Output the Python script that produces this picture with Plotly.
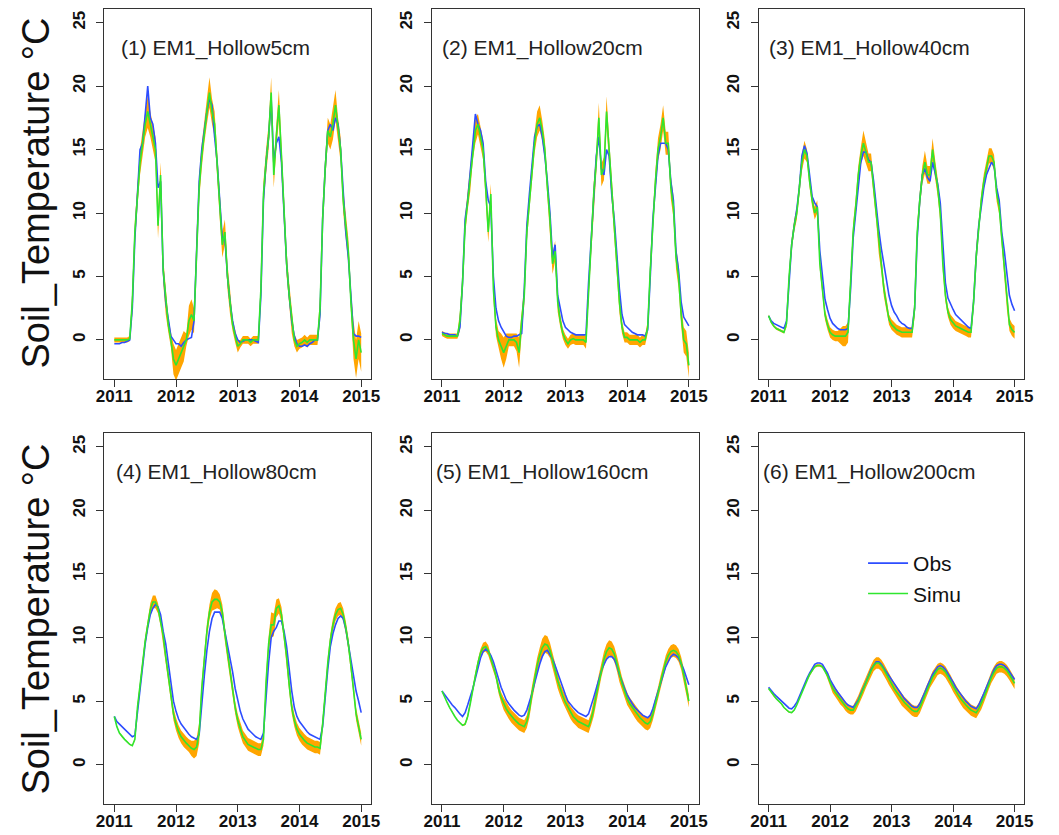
import plotly.graph_objects as go

# time grid: semi-monthly steps from 2011.0 to 2015.0 (decimal year)
years_start = 2011
steps_per_year = 24
t = [years_start + k / steps_per_year for k in range(4 * steps_per_year + 1)]

panel_titles = ["(1) EM1_Hollow5cm", "(2) EM1_Hollow20cm", "(3) EM1_Hollow40cm",
                "(4) EM1_Hollow80cm", "(5) EM1_Hollow160cm", "(6) EM1_Hollow200cm"]
x_ticks = [2011, 2012, 2013, 2014, 2015]
y_ticks = [0, 5, 10, 15, 20, 25]
y_title = "Soil_Temperature \u00b0C"
legend_names = ["Obs", "Simu"]

# ---------------- Panel 1: 5 cm ----------------
obs1 = [-0.3,-0.3,-0.3,-0.2,-0.2,-0.1,0.0,2.5,8.0,11.5, 15.0,15.5,18.0,20.0,17.5,17.0,15.5,12.0,12.5,5.5, 3.0,1.5,0.3,0.0,-0.3,
        -0.3,-0.5,-0.2,0.0,0.1,0.2,1.5,7.0,12.5,15.0, 16.5,18.0,19.0,18.5,16.0,14.0,11.0,8.0,8.0,5.0, 3.0,1.5,0.5,0.0,
        -0.2,-0.1,0.0,0.0,0.0,0.0,-0.1,-0.2,3.5,11.0, 14.0,16.0,19.0,14.0,15.5,16.0,14.0,10.0,6.0,3.5, 1.5,0.3,-0.3,-0.5,
        -0.5,-0.4,-0.5,-0.3,-0.2,0.0,0.0,2.0,9.5,13.5, 16.5,17.0,16.5,17.5,17.0,15.0,11.5,8.5,6.5,3.5, 0.5,0.3,0.3,0.2]
sim1 = [0.0,0.0,0.0,0.0,0.0,0.0,0.1,3.0,8.5,11.5, 14.0,15.5,17.0,18.0,17.0,16.0,15.0,9.0,13.0,5.5, 3.0,1.2,0.0,-1.5,-2.0,
        -1.5,-1.0,-0.5,0.0,1.5,2.0,1.5,7.5,12.0,14.5, 16.5,18.0,19.5,18.0,17.0,14.0,10.5,7.5,8.5,5.0, 3.0,1.2,0.3,-0.5,
        -0.3,0.0,0.0,0.0,-0.2,0.0,0.0,0.0,4.0,11.5, 14.0,16.0,19.5,13.0,16.0,18.5,14.5,10.0,6.0,3.5, 1.5,0.0,-0.5,-0.3,
        -0.2,0.0,-0.2,0.0,0.0,0.0,0.0,2.5,9.5,13.5, 16.5,16.0,17.0,18.5,16.5,15.0,11.0,9.0,7.0,3.0, 0.0,-1.5,0.0,-1.0]
half1 = [0.2,0.2,0.2,0.2,0.2,0.2,0.2,1.0,1.0,1.0, 1.0,1.0,1.0,1.3,1.0,1.0,1.0,1.0,1.0,1.0, 1.0,0.6,0.6,1.2,1.2,
         1.2,1.2,1.2,0.5,1.2,1.2,1.0,1.0,1.0,1.0, 1.0,1.0,1.2,1.0,1.0,1.0,1.0,1.0,1.0,1.0, 1.0,0.5,0.5,0.5,
         0.3,0.3,0.3,0.3,0.3,0.3,0.3,0.3,1.0,1.0, 1.0,1.0,1.2,1.0,1.0,1.2,1.0,1.0,1.0,1.0, 1.0,0.5,0.5,0.4,
         0.4,0.4,0.4,0.4,0.4,0.4,0.4,1.0,1.0,1.0, 1.0,1.0,1.2,1.2,1.0,1.0,1.0,1.0,1.0,1.0, 1.5,1.5,1.5,1.5]

# ---------------- Panel 2: 20 cm ----------------
obs2 = [0.6,0.5,0.5,0.4,0.4,0.4,0.3,1.0,4.5,9.5, 11.0,13.0,15.5,17.8,17.0,16.5,15.5,12.5,11.0,10.5, 5.0,2.5,1.5,1.0,0.6,
        0.3,0.2,0.2,0.3,0.3,0.4,0.5,4.0,9.0,11.5, 14.0,16.0,16.8,17.0,16.0,14.5,12.5,10.0,6.5,7.5, 3.5,2.5,1.5,1.0,
        0.8,0.6,0.5,0.4,0.4,0.4,0.4,0.4,4.5,8.0, 12.0,14.5,16.0,13.5,13.0,15.0,14.5,11.5,9.5,6.5, 4.0,2.0,1.2,1.0,
        0.8,0.6,0.5,0.4,0.4,0.4,0.3,0.8,5.0,9.5, 12.0,14.5,15.5,15.5,15.5,15.0,12.5,11.0,7.0,5.5, 3.0,1.8,1.4,1.1]
sim2 = [0.5,0.4,0.3,0.3,0.3,0.3,0.3,1.5,4.5,9.0, 11.0,12.5,15.0,16.5,17.0,16.0,15.0,12.0,8.5,11.5, 4.0,1.0,0.0,-0.5,-1.0,
        -0.5,0.0,0.0,0.0,-0.2,-1.0,1.5,3.5,8.5,11.0, 13.5,15.5,17.0,17.5,16.5,15.0,12.0,9.5,6.0,7.0, 3.0,1.5,0.5,0.0,
        -0.3,0.0,0.1,0.0,0.0,0.0,0.0,-0.2,4.0,7.5, 11.5,14.0,17.5,13.0,13.5,18.0,15.0,11.5,9.0,6.0, 3.0,1.0,0.2,0.2,
        0.0,0.0,0.0,0.0,-0.2,0.0,0.0,1.0,5.5,9.5, 12.5,15.0,16.0,17.5,15.5,15.5,12.0,10.5,6.5,5.0, 2.0,0.0,-0.3,-2.0]
half2 = [0.2,0.2,0.2,0.2,0.2,0.2,0.2,0.8,0.8,0.8, 0.8,0.8,0.8,1.0,0.8,0.8,0.8,0.8,0.8,0.8, 0.8,0.7,0.7,1.0,1.2,
         1.0,0.5,0.5,0.5,0.7,1.2,1.0,0.8,0.8,0.8, 0.8,0.8,1.0,1.0,0.8,0.8,0.8,0.8,0.8,0.8, 0.8,0.5,0.4,0.4,
         0.4,0.4,0.4,0.4,0.4,0.4,0.4,0.5,0.9,0.9, 0.9,0.9,1.2,0.9,0.9,1.2,0.9,0.9,0.9,0.9, 0.9,0.5,0.4,0.4,
         0.4,0.4,0.4,0.4,0.4,0.4,0.4,0.5,0.9,0.9, 0.9,0.9,1.0,1.0,0.9,0.9,0.9,0.9,0.9,0.9, 0.9,1.0,1.0,1.0]

# ---------------- Panel 3: 40 cm ----------------
obs3 = [1.9,1.5,1.3,1.2,1.1,1.0,0.9,1.5,5.0,7.5, 9.0,10.3,12.0,14.5,15.3,14.7,13.0,11.3,10.8,10.5, 7.0,5.0,3.2,2.4,1.7,
        1.3,1.1,0.9,0.8,0.8,0.8,0.9,4.0,8.0,10.0, 12.5,14.0,14.8,14.8,14.2,14.0,12.5,10.3,8.7,7.2, 6.0,5.0,3.5,2.7,
        2.2,1.9,1.5,1.3,1.2,1.0,0.9,0.9,2.5,8.0, 11.0,13.0,13.5,12.8,12.5,14.0,13.2,12.3,10.8,7.5, 4.5,3.3,2.8,2.4,
        2.0,1.8,1.6,1.4,1.2,1.0,0.9,3.0,6.5,9.0, 10.5,12.0,13.0,13.5,14.0,13.7,12.0,11.0,8.5,7.0, 5.0,3.5,2.8,2.3]
sim3 = [1.9,1.4,1.1,0.9,0.8,0.7,0.6,1.3,5.0,7.5, 9.0,10.0,12.0,14.0,15.0,14.5,12.5,11.0,10.0,10.5, 6.0,4.0,2.0,1.2,0.6,
        0.4,0.3,0.3,0.3,0.3,0.3,0.6,4.5,8.5,10.5, 13.0,14.5,15.5,14.8,14.0,14.0,12.0,10.0,7.5,6.0, 4.0,2.8,1.6,1.2,
        1.0,0.8,0.7,0.6,0.6,0.6,0.6,0.6,2.5,8.5, 11.0,13.0,14.0,13.0,13.0,15.0,13.5,12.0,10.0,6.0, 3.5,2.2,1.6,1.3,
        1.1,1.0,0.9,0.8,0.7,0.6,0.6,3.0,6.5,9.0, 11.0,12.5,13.5,14.5,14.5,14.0,11.5,10.5,8.0,5.5, 3.0,1.2,0.8,0.6]
half3 = [0.1,0.1,0.1,0.1,0.1,0.1,0.1,0.3,0.5,0.5, 0.5,0.5,0.5,0.7,0.7,0.5,0.5,0.5,0.5,0.5, 0.5,0.4,0.4,0.4,0.4,
         0.4,0.4,0.4,0.6,0.8,0.8,0.8,0.7,0.7,0.7, 0.7,0.7,1.0,0.8,0.7,0.7,0.7,0.7,0.7,0.7, 0.6,0.5,0.4,0.4,
         0.4,0.4,0.4,0.4,0.4,0.4,0.4,0.4,0.7,0.7, 0.7,0.7,0.9,0.7,0.7,0.9,0.7,0.7,0.7,0.6, 0.5,0.4,0.4,0.4,
         0.4,0.4,0.4,0.4,0.4,0.4,0.4,0.6,0.8,0.6, 0.6,0.6,0.6,0.6,0.6,0.6,0.6,0.6,0.6,0.6, 0.6,0.5,0.5,0.5]

# ---------------- Panel 4: 80 cm ----------------
obs4 = [3.8,3.4,3.2,3.0,2.8,2.6,2.4,2.2,2.3,4.2, 6.0,8.0,9.5,10.8,11.8,12.3,12.6,12.4,11.8,10.5, 9.5,8.0,6.5,5.0,4.2,
        3.6,3.2,2.9,2.6,2.4,2.2,2.1,2.0,2.4,5.0, 7.0,9.0,10.5,11.5,12.0,12.0,12.0,11.5,10.5,9.5, 8.5,7.3,6.0,5.0,
        4.2,3.6,3.2,2.8,2.6,2.4,2.2,2.1,2.0,2.5, 5.5,8.0,10.0,10.5,10.8,11.3,11.3,10.5,9.3,7.5, 5.8,4.5,3.8,3.4,
        3.1,2.8,2.6,2.4,2.3,2.2,2.1,2.0,3.0,5.5, 7.5,9.3,10.3,11.0,11.5,11.7,11.5,10.7,9.5,8.3, 7.0,5.8,5.0,4.1]
sim4 = [3.8,3.0,2.5,2.2,2.0,1.8,1.6,1.5,2.0,4.5, 6.3,8.0,9.7,11.0,12.2,12.8,12.8,12.3,11.3,10.2, 8.5,7.0,5.5,4.0,3.2,
        2.6,2.2,1.9,1.7,1.5,1.3,1.2,1.4,2.5,6.0, 8.3,10.5,12.0,12.8,13.0,13.0,12.8,12.0,10.3,8.8, 7.2,5.8,4.5,3.5,
        2.8,2.2,1.9,1.6,1.5,1.4,1.3,1.2,1.2,2.0, 6.5,9.5,11.0,11.0,12.3,12.5,11.8,10.3,8.5,6.3, 4.5,3.5,2.8,2.4,
        2.1,1.9,1.7,1.6,1.5,1.4,1.4,1.3,3.2,6.0, 8.0,9.8,11.0,11.8,12.2,12.3,11.8,10.8,9.5,7.8, 6.0,4.0,3.0,2.0]
half4 = [0.05,0.05,0.05,0.05,0.05,0.05,0.05,0.05,0.1,0.3, 0.4,0.4,0.4,0.4,0.5,0.5,0.5,0.4,0.4,0.4, 0.4,0.5,0.5,0.5,0.5,
         0.5,0.5,0.5,0.5,0.5,0.6,0.7,0.7,0.8,0.6, 0.6,0.6,0.6,0.7,0.8,0.7,0.6,0.6,0.6,0.6, 0.6,0.5,0.5,0.5,
         0.5,0.5,0.5,0.5,0.5,0.5,0.5,0.5,0.5,0.5, 0.6,0.6,1.0,0.9,0.7,0.6,0.6,0.6,0.6,0.6, 0.5,0.5,0.5,0.5,
         0.5,0.5,0.5,0.5,0.5,0.5,0.5,0.5,0.5,0.5, 0.5,0.5,0.5,0.5,0.5,0.5,0.5,0.5,0.5,0.5, 0.5,0.5,0.5,0.5]

# ---------------- Panel 5: 160 cm ----------------
obs5 = [5.8,5.5,5.2,5.0,4.7,4.5,4.2,4.0,3.8,4.1, 4.7,5.3,6.0,6.8,7.7,8.4,8.9,9.1,8.9,8.6, 8.1,7.4,6.7,6.1,5.6,
        5.1,4.8,4.5,4.3,4.1,3.9,3.8,3.9,4.3,4.9, 5.6,6.4,7.2,7.9,8.5,8.9,9.0,8.7,8.3,7.8, 7.2,6.6,6.0,5.5,
        5.0,4.7,4.5,4.3,4.1,4.0,3.9,3.8,4.0,4.6, 5.3,6.0,6.8,7.4,7.9,8.3,8.5,8.5,8.3,7.8, 7.1,6.5,6.0,5.5,
        5.1,4.8,4.5,4.3,4.1,3.9,3.8,3.7,3.9,4.4, 5.1,5.8,6.5,7.1,7.7,8.1,8.5,8.7,8.6,8.4, 8.0,7.5,6.9,6.3]
sim5 = [5.8,5.3,4.9,4.5,4.1,3.8,3.5,3.3,3.1,3.2, 3.8,4.8,6.0,7.0,8.0,8.8,9.2,9.3,9.0,8.4, 7.7,7.0,6.0,5.3,4.8,
        4.4,4.1,3.8,3.6,3.4,3.2,3.1,3.0,3.4,4.3, 5.6,6.8,7.8,8.6,9.2,9.5,9.4,9.0,8.3,7.4, 6.6,5.9,5.4,4.9,
        4.5,4.1,3.8,3.6,3.4,3.3,3.2,3.1,3.0,3.6, 4.4,5.5,6.5,7.5,8.3,8.9,9.2,9.1,8.7,8.0, 7.1,6.4,5.8,5.2,
        4.8,4.5,4.2,3.9,3.7,3.5,3.3,3.2,3.4,4.0, 4.7,5.6,6.5,7.3,8.1,8.6,8.9,9.0,8.9,8.6, 8.0,7.1,6.1,5.0]
half5 = [0.05,0.05,0.05,0.05,0.05,0.05,0.05,0.05,0.05,0.1, 0.2,0.3,0.3,0.3,0.3,0.3,0.4,0.4,0.4,0.3, 0.3,0.3,0.4,0.4,0.5,
         0.5,0.5,0.5,0.5,0.5,0.5,0.5,0.5,0.5,0.6, 0.6,0.6,0.6,0.6,0.7,0.7,0.7,0.6,0.6,0.6, 0.6,0.5,0.5,0.5,
         0.5,0.5,0.5,0.5,0.5,0.5,0.5,0.5,0.5,0.5, 0.6,0.6,0.6,0.6,0.6,0.6,0.6,0.6,0.6,0.6, 0.6,0.5,0.5,0.5,
         0.5,0.5,0.5,0.5,0.5,0.5,0.5,0.5,0.5,0.5, 0.5,0.5,0.5,0.5,0.5,0.5,0.5,0.5,0.5,0.5, 0.5,0.5,0.5,0.5]

# ---------------- Panel 6: 200 cm ----------------
obs6 = [6.1,5.8,5.6,5.4,5.2,5.0,4.8,4.6,4.45,4.4, 4.6,4.9,5.4,5.8,6.3,6.8,7.2,7.6,7.9,8.0, 8.0,7.9,7.6,7.2,6.7,
        6.3,6.0,5.7,5.4,5.2,4.9,4.7,4.6,4.5,4.8, 5.1,5.6,6.0,6.5,7.0,7.5,7.8,8.1,8.1,7.9, 7.6,7.3,7.0,6.6,
        6.3,6.0,5.7,5.4,5.2,5.0,4.8,4.6,4.5,4.5, 4.8,5.2,5.7,6.2,6.7,7.1,7.4,7.7,7.8,7.7, 7.5,7.2,6.9,6.5,
        6.1,5.8,5.5,5.2,5.0,4.8,4.6,4.5,4.4,4.7, 5.1,5.6,6.1,6.6,7.1,7.5,7.8,7.9,7.9,7.8, 7.6,7.3,7.0,6.7]
sim6 = [6.0,5.7,5.4,5.2,5.0,4.8,4.5,4.3,4.15,4.1, 4.3,4.7,5.2,5.7,6.2,6.7,7.1,7.4,7.7,7.8, 7.8,7.7,7.4,7.0,6.5,
        6.0,5.7,5.4,5.1,4.9,4.6,4.4,4.3,4.3,4.6, 5.0,5.5,6.0,6.5,7.0,7.4,7.8,8.0,8.0,7.8, 7.5,7.1,6.7,6.3,
        6.0,5.7,5.4,5.1,4.9,4.7,4.5,4.3,4.2,4.2, 4.5,5.0,5.5,6.0,6.5,6.9,7.2,7.5,7.6,7.5, 7.3,7.0,6.6,6.2,
        5.8,5.5,5.2,4.9,4.7,4.5,4.3,4.2,4.1,4.4, 4.8,5.3,5.8,6.4,6.9,7.3,7.6,7.7,7.7,7.6, 7.4,7.1,6.8,6.4]
half6 = [0.05,0.05,0.05,0.05,0.05,0.05,0.05,0.05,0.05,0.05, 0.05,0.1,0.1,0.1,0.1,0.1,0.1,0.1,0.1,0.1, 0.1,0.1,0.1,0.3,0.3,
         0.35,0.35,0.35,0.35,0.35,0.35,0.35,0.35,0.35,0.4, 0.45,0.45,0.45,0.45,0.45,0.45,0.45,0.45,0.45,0.45, 0.45,0.45,0.45,0.45,
         0.45,0.45,0.45,0.45,0.45,0.45,0.45,0.45,0.45,0.45, 0.45,0.45,0.45,0.45,0.45,0.45,0.45,0.45,0.45,0.45, 0.45,0.45,0.45,0.45,
         0.45,0.45,0.45,0.45,0.45,0.45,0.45,0.45,0.45,0.45, 0.45,0.45,0.45,0.45,0.45,0.45,0.45,0.45,0.45,0.45, 0.45,0.45,0.45,0.45]

obs_all = [obs1, obs2, obs3, obs4, obs5, obs6]
sim_all = [sim1, sim2, sim3, sim4, sim5, sim6]
half_all = [half1, half2, half3, half4, half5, half6]
for arr in obs_all + sim_all + half_all:
    assert len(arr) == len(t), len(arr)

# ---------------- layout geometry (pixels in 1059x835) ----------------
W, H = 1059, 835
col_px = [(98, 369), (431, 702), (763, 1033)]
row_px = [(9, 379), (433, 804)]
title_px = [(113, 48), (439, 48), (771, 48), (108, 472), (433, 472), (765, 472)]

C_OBS = "#2d4dff"
C_SIM = "#2fe62f"
C_BAND = "#ffa500"
FONT = "Liberation Sans, Arial, sans-serif"

fig = go.Figure()
layout = dict(width=W, height=H, margin=dict(l=0, r=0, t=0, b=0),
              paper_bgcolor="white", plot_bgcolor="white", annotations=[])

for i in range(6):
    r, c = divmod(i, 3)
    n = i + 1
    xa = "x" if n == 1 else f"x{n}"
    ya = "y" if n == 1 else f"y{n}"
    sim, obs, half = sim_all[i], obs_all[i], half_all[i]
    hi = [s + h for s, h in zip(sim, half)]
    lo = [s - h for s, h in zip(sim, half)]
    fig.add_trace(go.Scatter(x=t + t[::-1], y=hi + lo[::-1], fill="toself",
                             fillcolor=C_BAND, line=dict(width=0), mode="lines",
                             showlegend=False, hoverinfo="skip", xaxis=xa, yaxis=ya))
    fig.add_trace(go.Scatter(x=t, y=obs, mode="lines", line=dict(color=C_OBS, width=1.6),
                             name=legend_names[0], showlegend=(n == 6), xaxis=xa, yaxis=ya))
    fig.add_trace(go.Scatter(x=t, y=sim, mode="lines", line=dict(color=C_SIM, width=1.6),
                             name=legend_names[1], showlegend=(n == 6), xaxis=xa, yaxis=ya))

    x0, x1 = col_px[c]
    y0, y1 = row_px[r]
    axis_common = dict(showline=True, mirror=True, linecolor="#333", linewidth=1,
                       ticks="outside", ticklen=7, tickwidth=1, tickcolor="#333",
                       showgrid=False, zeroline=False,
                       tickfont=dict(family=FONT, size=17, color="#111", weight="bold"))
    layout["xaxis" if n == 1 else f"xaxis{n}"] = dict(
        domain=[x0 / W, x1 / W], anchor=ya, range=[2010.84, 2015.16],
        tickmode="array", tickvals=x_ticks, ticktext=[str(v) for v in x_ticks],
        ticklabelstandoff=-5, **axis_common)
    layout["yaxis" if n == 1 else f"yaxis{n}"] = dict(
        domain=[1 - y1 / H, 1 - y0 / H], anchor=xa, range=[-3.08, 26.08],
        tickmode="array", tickvals=y_ticks, tickangle=-90, ticklabelstandoff=5, **axis_common)

    tx, ty = title_px[i]
    layout["annotations"].append(dict(text=panel_titles[i], x=tx / W, y=1 - ty / H,
                                      xref="paper", yref="paper", xanchor="left", yanchor="middle",
                                      showarrow=False, font=dict(family=FONT, size=21, color="#222")))

for yc in (193, 619):
    layout["annotations"].append(dict(text=y_title, x=28 / W, y=1 - yc / H, xref="paper", yref="paper",
                                      xanchor="center", yanchor="middle", textangle=-90, showarrow=False,
                                      font=dict(family=FONT, size=38, color="#111")))

layout["legend"] = dict(x=869 / W, y=1 - 543 / H, xanchor="left", yanchor="top",
                        bgcolor="rgba(0,0,0,0)", borderwidth=0,
                        font=dict(family=FONT, size=21, color="#111"), itemwidth=40)
fig.update_layout(**layout)
fig.write_html("out.html")
